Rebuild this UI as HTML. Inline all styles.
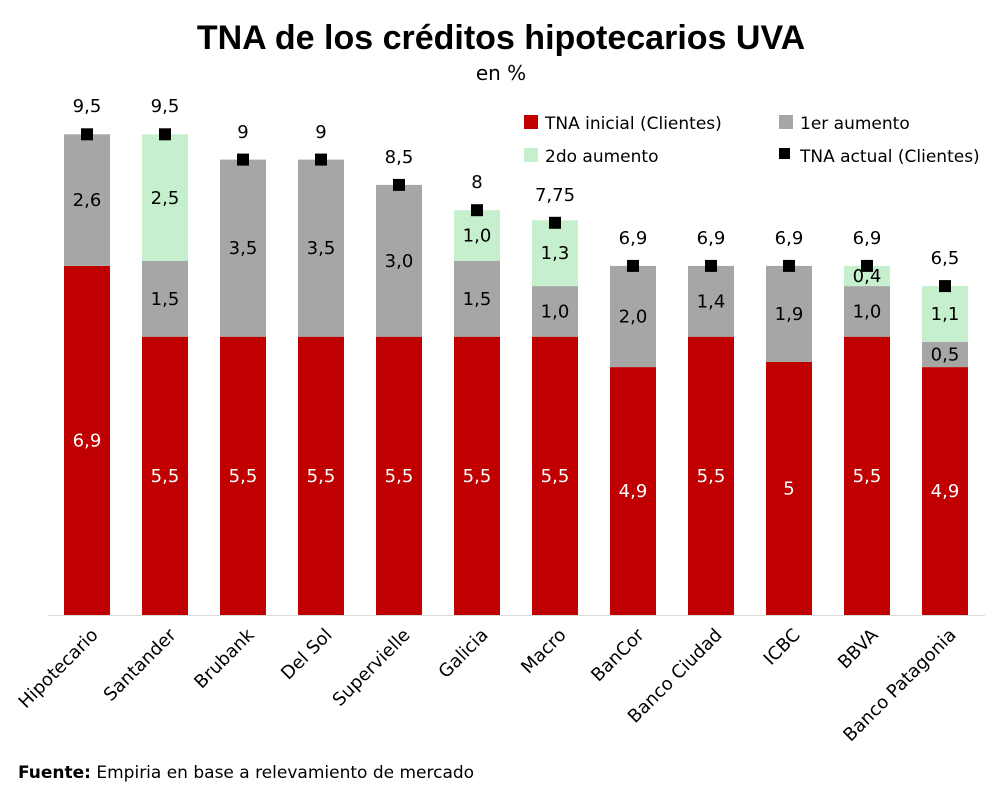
<!DOCTYPE html>
<html><head><meta charset="utf-8"><style>
html,body{margin:0;padding:0;background:#fff;}
</style></head><body>
<svg width="1002" height="793" xmlns="http://www.w3.org/2000/svg" font-family="DejaVu Sans, Liberation Sans, sans-serif">
<rect width="1002" height="793" fill="#fff"/>
<text x="501" y="49" text-anchor="middle" font-size="34" font-weight="bold" font-family="Liberation Sans, sans-serif">TNA de los créditos hipotecarios UVA</text>
<text x="501" y="80" text-anchor="middle" font-size="20">en %</text>
<line x1="48" y1="615.5" x2="985" y2="615.5" stroke="#d9d9d9" stroke-width="1"/>

<g>
<g fill="#c00000">
<rect x="64" y="265.9" width="46" height="349.1"/>
<rect x="142" y="336.7" width="46" height="278.3"/>
<rect x="220" y="336.7" width="46" height="278.3"/>
<rect x="298" y="336.7" width="46" height="278.3"/>
<rect x="376" y="336.7" width="46" height="278.3"/>
<rect x="454" y="336.7" width="46" height="278.3"/>
<rect x="532" y="336.7" width="46" height="278.3"/>
<rect x="610" y="367.1" width="46" height="247.9"/>
<rect x="688" y="336.7" width="46" height="278.3"/>
<rect x="766" y="362" width="46" height="253"/>
<rect x="844" y="336.7" width="46" height="278.3"/>
<rect x="922" y="367.1" width="46" height="247.9"/>
</g>
<g fill="#a6a6a6">
<rect x="64" y="134.3" width="46" height="131.6"/>
<rect x="142" y="260.8" width="46" height="75.9"/>
<rect x="220" y="159.6" width="46" height="177.1"/>
<rect x="298" y="159.6" width="46" height="177.1"/>
<rect x="376" y="184.9" width="46" height="151.8"/>
<rect x="454" y="260.8" width="46" height="75.9"/>
<rect x="532" y="286.1" width="46" height="50.6"/>
<rect x="610" y="265.9" width="46" height="101.2"/>
<rect x="688" y="265.9" width="46" height="70.8"/>
<rect x="766" y="265.9" width="46" height="96.1"/>
<rect x="844" y="286.1" width="46" height="50.6"/>
<rect x="922" y="341.8" width="46" height="25.3"/>
</g>
<g fill="#c6efce">
<rect x="142" y="134.3" width="46" height="126.5"/>
<rect x="454" y="210.2" width="46" height="50.6"/>
<rect x="532" y="220.3" width="46" height="65.8"/>
<rect x="844" y="265.9" width="46" height="20.2"/>
<rect x="922" y="286.1" width="46" height="55.7"/>
</g>
<g font-size="18" fill="#fff" text-anchor="middle">
<text x="87" y="446.5">6,9</text>
<text x="165" y="482">5,5</text>
<text x="243" y="482">5,5</text>
<text x="321" y="482">5,5</text>
<text x="399" y="482">5,5</text>
<text x="477" y="482">5,5</text>
<text x="555" y="482">5,5</text>
<text x="633" y="497">4,9</text>
<text x="711" y="482">5,5</text>
<text x="789" y="494.5">5</text>
<text x="867" y="482">5,5</text>
<text x="945" y="497">4,9</text>
</g>
<g font-size="18" fill="#000" text-anchor="middle">
<text x="87" y="206">2,6</text>
<text x="165" y="305">1,5</text>
<text x="165" y="204">2,5</text>
<text x="243" y="254">3,5</text>
<text x="321" y="254">3,5</text>
<text x="399" y="267">3,0</text>
<text x="477" y="305">1,5</text>
<text x="477" y="241.5">1,0</text>
<text x="555" y="317.4">1,0</text>
<text x="555" y="259">1,3</text>
<text x="633" y="322.5">2,0</text>
<text x="711" y="307.3">1,4</text>
<text x="789" y="320">1,9</text>
<text x="867" y="317.4">1,0</text>
<text x="867" y="282">0,4</text>
<text x="945" y="360.5">0,5</text>
<text x="945" y="320">1,1</text>
</g>
<g fill="#000">
<rect x="81" y="128.3" width="12" height="12"/>
<rect x="159" y="128.3" width="12" height="12"/>
<rect x="237" y="153.6" width="12" height="12"/>
<rect x="315" y="153.6" width="12" height="12"/>
<rect x="393" y="178.9" width="12" height="12"/>
<rect x="471" y="204.2" width="12" height="12"/>
<rect x="549" y="216.8" width="12" height="12"/>
<rect x="627" y="259.9" width="12" height="12"/>
<rect x="705" y="259.9" width="12" height="12"/>
<rect x="783" y="259.9" width="12" height="12"/>
<rect x="861" y="259.9" width="12" height="12"/>
<rect x="939" y="280.1" width="12" height="12"/>
</g>
<g font-size="18" fill="#000" text-anchor="middle">
<text x="87" y="112">9,5</text>
<text x="165" y="112">9,5</text>
<text x="243" y="138">9</text>
<text x="321" y="138">9</text>
<text x="399" y="163">8,5</text>
<text x="477" y="188">8</text>
<text x="555" y="201">7,75</text>
<text x="633" y="244">6,9</text>
<text x="711" y="244">6,9</text>
<text x="789" y="244">6,9</text>
<text x="867" y="244">6,9</text>
<text x="945" y="264">6,5</text>
</g>
<g font-size="18" fill="#000" text-anchor="end">
<text transform="translate(99,636) rotate(-45)">Hipotecario</text>
<text transform="translate(177,636) rotate(-45)">Santander</text>
<text transform="translate(255,636) rotate(-45)">Brubank</text>
<text transform="translate(333,636) rotate(-45)">Del Sol</text>
<text transform="translate(411,636) rotate(-45)">Supervielle</text>
<text transform="translate(489,636) rotate(-45)">Galicia</text>
<text transform="translate(567,636) rotate(-45)">Macro</text>
<text transform="translate(645,636) rotate(-45)">BanCor</text>
<text transform="translate(723,636) rotate(-45)">Banco Ciudad</text>
<text transform="translate(801,636) rotate(-45)">ICBC</text>
<text transform="translate(879,636) rotate(-45)">BBVA</text>
<text transform="translate(957,636) rotate(-45)">Banco Patagonia</text>
</g>
</g>

<g font-size="17">
<rect x="524" y="115" width="14" height="14" fill="#c00000"/><text x="545" y="129">TNA inicial (Clientes)</text>
<rect x="779" y="115" width="14" height="14" fill="#a6a6a6"/><text x="800" y="129">1er aumento</text>
<rect x="524" y="148" width="14" height="14" fill="#c6efce"/><text x="545" y="162">2do aumento</text>
<rect x="779" y="148" width="11" height="11" fill="#000"/><text x="800" y="162">TNA actual (Clientes)</text>
</g>
<text x="18" y="778" font-size="17"><tspan font-weight="bold">Fuente:</tspan> Empiria en base a relevamiento de mercado</text>
</svg>
</body></html>
